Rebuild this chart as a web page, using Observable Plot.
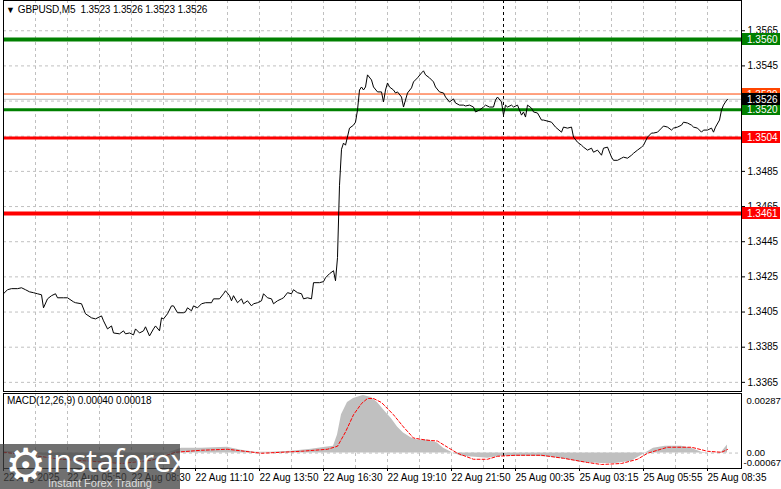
<!DOCTYPE html>
<html><head><meta charset="utf-8">
<script src="https://cdn.jsdelivr.net/npm/d3@7"></script>
<script src="https://cdn.jsdelivr.net/npm/@observablehq/plot@0.6"></script>
<style>
body{margin:0;background:#fff;}
#wrap{position:relative;width:781px;height:489px;overflow:hidden;font-family:"Liberation Sans",Arial,sans-serif;background:#fff;}
#main{position:absolute;left:0;top:0;}
#macd{position:absolute;left:0;top:392px;}
#hdr{position:absolute;left:6px;top:4px;font-size:10px;line-height:12px;color:#000;white-space:pre;letter-spacing:-0.15px;}
#hdr .tri{font-size:9px;vertical-align:0px;margin-right:3px;}
#mlab{position:absolute;left:7px;top:395px;font-size:10px;line-height:12px;color:#000;white-space:pre;letter-spacing:-0.1px;}
#logo{position:absolute;left:0;top:444px;width:180px;height:45px;background:rgba(64,64,64,0.75);color:#fff;overflow:hidden;}
#logo .gear{position:absolute;left:5px;top:-6px;font-family:"DejaVu Sans";font-size:46px;line-height:54px;color:#fff;}
#logo .name{position:absolute;left:46px;top:-2px;font-family:"Open Sans",sans-serif;font-size:31px;line-height:36px;color:#fff;letter-spacing:-0.5px;}
#logo .tag{position:absolute;left:48px;top:33px;font-family:"Liberation Sans",Arial,sans-serif;font-size:11px;line-height:12px;color:#ddd;}
</style></head><body>
<div id="wrap">
  <div id="main"></div>
  <div id="macd"></div>
  <div id="hdr"><span class="tri">▼</span>GBPUSD,M5  1.3523 1.3526 1.3523 1.3526</div>
  <div id="mlab">MACD(12,26,9) 0.00040 0.00018</div>
  <div id="logo"><span class="gear">⚙</span><span class="name">instaforex</span><span class="tag">Instant Forex Trading</span></div>
</div>
<script>
// ---- price series (bar index of M5 bars, close price) ----
const priceBar = [0,2,4,7,9,11,13,15,17,19,20,22,24,26,27,30,32,35,36,39,41,44,46,49,50,52,54,55,58,60,61,63,65,66,68,70,71,73,75,76,78,79,80,82,84,85,87,90,91,92,94,95,97,99,101,104,105,108,110,111,113,114,115,117,119,120,122,124,125,127,129,130,132,134,135,137,139,140,142,144,145,147,149,150,152,154,155,158,160,161,163,165,166,167,168,169,170,171,173,175,176,177,178,179,180,181,182,184,185,187,189,190,191,192,193,195,196,197,199,200,202,204,205,207,209,210,211,213,215,216,218,220,221,223,225,226,228,230,231,233,235,236,238,240,241,243,245,246,247,249,250,251,252,254,255,257,259,260,261,262,264,265,267,269,270,274,276,279,280,282,284,285,287,289,290,292,294,295,297,299,300,302,304,305,307,309,310,312,314,315,317,319,320,322,324,325,327,329,330,332,334,335,337,339,340,342,344,345,347,349,350,352,354,355,356,358,359,360,361,362];
const priceClose = [1.34154,1.34177,1.34183,1.34183,1.34188,1.34177,1.34165,1.34160,1.34154,1.34148,1.34074,1.34125,1.34143,1.34154,1.34131,1.34131,1.34131,1.34108,1.34103,1.34097,1.34040,1.34017,1.34011,1.34028,1.34000,1.33954,1.33971,1.33931,1.33926,1.33943,1.33926,1.33931,1.33920,1.33954,1.33931,1.33943,1.33966,1.33914,1.33954,1.33971,1.33943,1.34017,1.34011,1.34040,1.34085,1.34085,1.34046,1.34046,1.34051,1.34074,1.34057,1.34085,1.34074,1.34097,1.34103,1.34103,1.34125,1.34125,1.34154,1.34171,1.34143,1.34114,1.34143,1.34103,1.34125,1.34097,1.34114,1.34085,1.34097,1.34103,1.34114,1.34154,1.34131,1.34125,1.34097,1.34114,1.34125,1.34131,1.34160,1.34154,1.34177,1.34160,1.34154,1.34125,1.34131,1.34125,1.34217,1.34217,1.34223,1.34245,1.34268,1.34285,1.34228,1.34360,1.34771,1.34976,1.35011,1.34999,1.35096,1.35113,1.35130,1.35199,1.35313,1.35330,1.35313,1.35330,1.35399,1.35370,1.35330,1.35302,1.35302,1.35245,1.35313,1.35353,1.35330,1.35313,1.35296,1.35302,1.35273,1.35216,1.35296,1.35325,1.35359,1.35382,1.35410,1.35422,1.35399,1.35382,1.35359,1.35330,1.35302,1.35296,1.35273,1.35245,1.35262,1.35239,1.35227,1.35227,1.35222,1.35227,1.35216,1.35188,1.35199,1.35216,1.35227,1.35216,1.35216,1.35256,1.35273,1.35245,1.35170,1.35227,1.35216,1.35227,1.35216,1.35227,1.35170,1.35188,1.35159,1.35227,1.35210,1.35188,1.35182,1.35142,1.35142,1.35130,1.35102,1.35073,1.35102,1.35096,1.35102,1.35045,1.35016,1.34999,1.34988,1.34971,1.34982,1.34959,1.34971,1.34942,1.34982,1.34988,1.34931,1.34913,1.34913,1.34925,1.34931,1.34925,1.34942,1.34953,1.34971,1.34988,1.34999,1.35045,1.35068,1.35068,1.35073,1.35096,1.35108,1.35102,1.35085,1.35096,1.35102,1.35113,1.35130,1.35125,1.35113,1.35102,1.35096,1.35073,1.35085,1.35085,1.35096,1.35073,1.35102,1.35142,1.35199,1.35227,1.35245,1.35260];

// ---- MACD(12,26,9) ----
const macdBar = [0,9,19,29,39,49,59,69,79,89,99,112,119,126,134,144,154,161,165,167,169,172,175,179,180,184,187,190,194,197,200,204,207,212,217,220,224,229,236,242,249,256,266,274,281,289,299,306,314,320,325,331,339,344,349,354,359,362];
const macdMain = [0.00009,0.00004,-0.00011,-0.00026,-0.00036,-0.00047,-0.00052,-0.00036,-0.00011,0.00024,0.00024,0.00029,0.00014,0.00004,0.00004,0.00009,0.00019,0.00029,0.00034,0.00090,0.00191,0.00252,0.00272,0.00285,0.00287,0.00277,0.00252,0.00216,0.00171,0.00130,0.00100,0.00075,0.00065,0.00065,0.00050,0.00024,0.00004,-0.00016,-0.00021,-0.00026,-0.00016,-0.00016,-0.00016,-0.00021,-0.00031,-0.00047,-0.00052,-0.00052,-0.00041,-0.00006,0.00024,0.00034,0.00034,0.00024,0.00004,-0.00001,0.00004,0.00040];
const signalBar = [0,14,29,44,59,74,86,99,112,129,149,162,167,171,175,179,182,185,189,195,200,205,211,217,222,227,235,242,247,256,269,280,292,299,309,317,322,332,344,352,359,362];
const signalValue = [0.00004,-0.00011,-0.00031,-0.00041,-0.00052,-0.00036,0.00004,0.00014,0.00019,-0.00001,0.00009,0.00019,0.00034,0.00105,0.00191,0.00247,0.00272,0.00272,0.00252,0.00191,0.00130,0.00075,0.00065,0.00060,0.00029,-0.00001,-0.00031,-0.00031,-0.00016,-0.00011,-0.00011,-0.00026,-0.00047,-0.00057,-0.00052,-0.00031,-0.00001,0.00029,0.00029,0.00009,0.00004,0.00018];

// ---- levels & labels ----
const levelValues = [1.3560, 1.3520, 1.3504, 1.3461];
const levelColors = ["#008000", "#008000", "#ff0000", "#ff0000"];
const askPrice = 1.3529;
const bidPrice = 1.3526;
const priceTicks = [1.3365,1.3385,1.3405,1.3425,1.3445,1.3465,1.3485,1.3505,1.3525,1.3545,1.3565];
const gridBars = [16,32,48,64,80,96,112,128,144,160,176,192,208,224,240,256,272,288,304,320,336,352];
const timeBars = [0,32,64,96,128,160,192,224,256,288,320,352];
const timeLabels = ["22 Aug 2025","22 Aug 05:50","22 Aug 08:30","22 Aug 11:10","22 Aug 13:50","22 Aug 16:30","22 Aug 19:10","22 Aug 21:50","25 Aug 00:35","25 Aug 03:15","25 Aug 05:55","25 Aug 08:35"];
const daySeparatorBar = 250;
const macdMax = 0.00287, macdMin = -0.00067, macdZero = 0.00;
const macdAxisLabels = ["0.00287", "0.00", "-0.00067"];

const FONT = "Liberation Sans, Arial, sans-serif";
const price = priceBar.map((b, i) => ({bar: b, close: priceClose[i]}));
const macd = macdBar.map((b, i) => ({bar: b, v: macdMain[i]}));
const signal = signalBar.map((b, i) => ({bar: b, v: signalValue[i]}));
const boxes = [
  {v: askPrice, c: "#ff4500"},
  {v: levelValues[0], c: levelColors[0]},
  {v: levelValues[1], c: levelColors[1]},
  {v: levelValues[2], c: levelColors[2]},
  {v: levelValues[3], c: levelColors[3]},
  {v: bidPrice, c: "#000000"}
];

function priceBoxes(index, scales, values, dimensions) {
  const g = d3.create("svg:g").attr("text-anchor", "start");
  const x0 = dimensions.width - dimensions.marginRight + 1;
  for (const b of boxes) {
    const y = Math.round(scales.y(b.v));
    g.append("rect").attr("x", x0).attr("y", y - 6).attr("width", 38).attr("height", 12).attr("fill", b.c);
    g.append("text").attr("x", x0 + 5).attr("y", y).attr("dy", "0.36em").attr("text-anchor", "start")
      .attr("fill", "#fff").attr("font-size", 10).attr("font-family", FONT).text(d3.format(".4f")(b.v));
  }
  return g.node();
}

const mainChart = Plot.plot({
  width: 781, height: 392,
  marginLeft: 3, marginRight: 40, marginTop: 0, marginBottom: 1,
  x: {domain: [0, 369], axis: null},
  y: {domain: [1.33598, 1.35822]},
  style: {fontFamily: FONT, fontSize: "10px", background: "#fff", overflow: "visible", color: "#000"},
  marks: [
    Plot.ruleX(gridBars, {stroke: "#c0c0c0", strokeDasharray: "3,3", strokeOpacity: 1}),
    Plot.ruleY(priceTicks, {stroke: "#c0c0c0", strokeDasharray: "3,3", strokeOpacity: 1}),
    Plot.ruleX([daySeparatorBar], {stroke: "#000", strokeDasharray: "3,3", strokeOpacity: 1}),
    Plot.ruleY([askPrice], {stroke: "#ff4500", strokeWidth: 1}),
    Plot.ruleY([bidPrice], {stroke: "#c0c0c0", strokeWidth: 1}),
    Plot.ruleY([levelValues[0]], {stroke: levelColors[0], strokeWidth: 4}),
    Plot.ruleY([levelValues[1]], {stroke: levelColors[1], strokeWidth: 3}),
    Plot.ruleY([levelValues[2]], {stroke: levelColors[2], strokeWidth: 3}),
    Plot.ruleY([levelValues[3]], {stroke: levelColors[3], strokeWidth: 4}),
    Plot.line(price, {x: "bar", y: "close", stroke: "#000", strokeWidth: 1}),
    Plot.frame({stroke: "#000"}),
    Plot.axisY({anchor: "right", ticks: priceTicks, tickFormat: d3.format(".4f"), tickSize: 3, tickPadding: 3, label: null, fontSize: 10, fill: "#000"}),
    priceBoxes
  ]
});
document.getElementById("main").append(mainChart);

const timeLabelFor = new Map(timeBars.map((b, i) => [b, timeLabels[i]]));
const macdText = {frameAnchor: "right", textAnchor: "start", fill: "#000", fontSize: 9.5};
const macdChart = Plot.plot({
  width: 781, height: 97,
  marginLeft: 3, marginRight: 40, marginTop: 1, marginBottom: 21,
  x: {domain: [0, 369]},
  y: {domain: [macdMin, macdMax], insetTop: 2, insetBottom: 2, axis: null},
  style: {fontFamily: FONT, fontSize: "10px", background: "transparent", overflow: "visible", color: "#000"},
  marks: [
    Plot.ruleX(gridBars, {stroke: "#c0c0c0", strokeDasharray: "3,3", strokeOpacity: 1}),
    Plot.ruleY([macdZero], {stroke: "#c0c0c0", strokeDasharray: "3,3"}),
    Plot.areaY(macd, {x: "bar", y: "v", fill: "#c0c0c0", fillOpacity: 1}),
    Plot.ruleX([daySeparatorBar], {stroke: "#000", strokeDasharray: "3,3", strokeOpacity: 1}),
    Plot.line(signal, {x: "bar", y: "v", stroke: "#ff0000", strokeWidth: 1, strokeDasharray: "3,2"}),
    Plot.frame({stroke: "#000"}),
    Plot.text([macdMax], {y: d => d, text: () => macdAxisLabels[0], dx: 5, dy: 5, ...macdText}),
    Plot.text([macdZero], {y: d => d, text: () => macdAxisLabels[1], dx: 5, dy: 0, ...macdText}),
    Plot.text([macdMin], {y: d => d, text: () => macdAxisLabels[2], dx: 2, dy: -4, ...macdText}),
    Plot.axisX(timeBars, {anchor: "bottom", tickFormat: d => timeLabelFor.get(d), tickSize: 3, tickPadding: 2, textAnchor: "start", label: null, fontSize: 10, fill: "#000"})
  ]
});
document.getElementById("macd").append(macdChart);
</script>
</body></html>
